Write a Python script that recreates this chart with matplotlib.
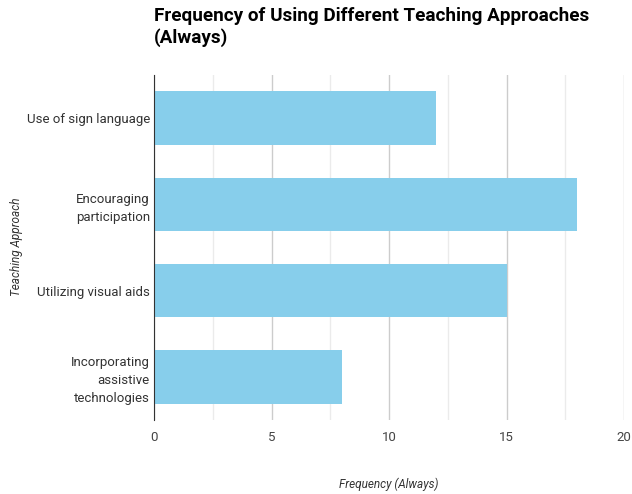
import matplotlib
matplotlib.use("Agg")
import matplotlib.pyplot as plt
import numpy as np

# data
approaches = ["Use of sign language",
              "Encouraging\nparticipation",
              "Utilizing visual aids",
              "Incorporating\nassistive\ntechnologies"]
always_counts = [12, 18, 15, 8]
x_ticks = [0, 5, 10, 15, 20]

plt.rcParams['font.family'] = ['Roboto', 'DejaVu Sans']

fig = plt.figure(figsize=(6.32, 4.94), dpi=100)
ax = fig.add_axes([154/632, 1-420/494, (624-154)/632, (420-75)/494])

ypos = np.arange(len(approaches))
ax.barh(ypos, always_counts, height=0.62, color='#87CEEB', zorder=3)

ax.set_ylim(len(approaches)-0.5, -0.5)
ax.set_xlim(0, 20)
ax.set_xticks(x_ticks)
ax.set_xticks(np.arange(2.5, 20, 5), minor=True)
ax.set_yticks(ypos)
ax.set_yticklabels(approaches, fontsize=9.5, color='#333333', linespacing=1.5,
                   multialignment='right')
ax.tick_params(axis='x', which='both', length=0, labelsize=9.5, labelcolor='#444444', pad=8)
ax.tick_params(axis='y', length=0, pad=3)

ax.grid(True, axis='x', which='major', color='#cccccc', lw=1, zorder=0)
ax.grid(True, axis='x', which='minor', color='#ebebeb', lw=1, zorder=0)
for s in ['top', 'right', 'bottom']:
    ax.spines[s].set_visible(False)
ax.spines['left'].set_color('#333333')
ax.spines['left'].set_zorder(4)

fig.text(154/632, 1-7/494, "Frequency of Using Different Teaching Approaches\n(Always)",
         fontsize=13.6, fontweight='bold', color='#000000', va='top', ha='left', linespacing=1.25)
fig.text(389/632, 1-484/494, "Frequency (Always)", fontsize=8.5, style='italic',
         color='#333333', ha='center', va='center')
fig.text(17/632, 1-247/494, "Teaching Approach", fontsize=8.5, style='italic',
         color='#333333', ha='center', va='center', rotation=90)

fig.savefig("out.png", dpi=100)
